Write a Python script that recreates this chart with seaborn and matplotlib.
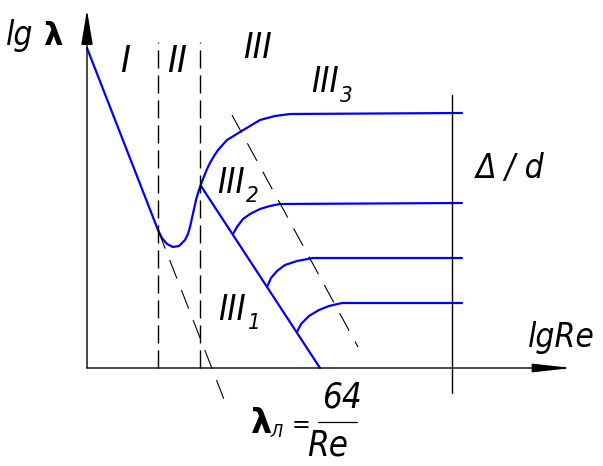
import matplotlib
matplotlib.use("Agg")
import matplotlib.pyplot as plt
import seaborn as sns
import pandas as pd
from matplotlib import font_manager

# ---------------- data (schematic units, origin at axis crossing) ----------------
laminar_x = [0, 71]
laminar_y = [320, 138]

trans_x = [71, 75, 80, 86, 92, 98, 101, 103, 105, 107, 109, 111, 113, 116, 120, 123,
           127, 131, 140, 153, 173, 188, 203, 375]
trans_y = [138, 130, 124, 121, 122, 128, 134, 141, 150, 159, 168, 175, 181, 189, 199, 205,
           212, 218, 228, 236, 248, 252, 254, 255]

smooth_x = [114, 233]
smooth_y = [182, 0]

branch1_x = [146, 150, 156, 163, 173, 183, 193, 375]
branch1_y = [134, 141, 149, 154, 159, 162, 164, 165]
branch2_x = [180, 184, 190, 198, 210, 226, 375]
branch2_y = [81, 90, 97, 103, 107, 110, 110]
branch3_x = [210, 214, 222, 232, 242, 255, 375]
branch3_y = [36, 44, 52, 58, 62, 65, 65]

lam_ext_x = [71, 140]
lam_ext_y = [138, -39]
bound_x = [145, 271]
bound_y = [253, 21]

zone_bounds = [71, 113]
zone_top = 326
rough_x = 365
rough_span = [-25, 273]
x_axis_end = 485
y_axis_end = 358

# ---------------- style ----------------
sns.set_theme(style="white")
entries = font_manager.fontManager.ttflist


def has(name, style=None, stretch=None):
    for f in entries:
        if f.name == name and (style is None or f.style == style) \
                and (stretch is None or f.stretch == stretch):
            return True
    return False


if has('Liberation Sans Narrow'):
    FAM, STRETCH, SCALE = 'Liberation Sans Narrow', 'normal', 1.0
elif has('DejaVu Sans', stretch='condensed'):
    FAM, STRETCH, SCALE = 'DejaVu Sans', 'condensed', 1.0
elif has('Roboto Condensed'):
    FAM, STRETCH, SCALE = 'Roboto Condensed', 'normal', 1.0
else:
    FAM, STRETCH, SCALE = 'Liberation Sans', 'normal', 0.88
plt.rcParams['font.family'] = [FAM, 'DejaVu Sans']

BLUE = '#0000ff'
LW = 1.6

fig = plt.figure(figsize=(6.03, 4.66), dpi=100)
ax = fig.add_axes([0, 0, 1, 1])
ax.set_xlim(-87, 516)
ax.set_ylim(-98, 368)
ax.axis('off')


def blue(xs, ys):
    df = pd.DataFrame({'x': xs, 'y': ys})
    sns.lineplot(data=df, x='x', y='y', sort=False, estimator=None,
                 color=BLUE, lw=LW, ax=ax)


for xs, ys in [(laminar_x, laminar_y), (trans_x, trans_y), (smooth_x, smooth_y),
               (branch1_x, branch1_y), (branch2_x, branch2_y), (branch3_x, branch3_y)]:
    blue(xs, ys)

# dashed diagonal guides
ax.plot(lam_ext_x, lam_ext_y, color='black', lw=0.8, dashes=(18, 11))
ax.plot(bound_x, bound_y, color='black', lw=0.8, dashes=(18, 11))

# zone boundaries
for xb in zone_bounds:
    ax.plot([xb, xb], [0, zone_top], color='black', lw=1.0, dashes=(13, 5))

# roughness vertical
ax.plot([rough_x, rough_x], rough_span, color='black', lw=1.0)

# axes with arrows
ax.annotate('', xy=(0, y_axis_end), xytext=(0, 0),
            arrowprops=dict(arrowstyle='-|>,head_length=1.8,head_width=0.3',
                            lw=1.0, color='black', shrinkA=0, shrinkB=0))
ax.annotate('', xy=(x_axis_end, 0), xytext=(0, 0),
            arrowprops=dict(arrowstyle='-|>,head_length=2.0,head_width=0.22',
                            lw=1.0, color='black', shrinkA=0, shrinkB=0))


def t(x, y, s, size, ha='left', **extra):
    ax.text(x, y, s, fontsize=size * SCALE, style='italic', color='black',
            va='baseline', ha=ha, family=[FAM, 'DejaVu Sans'], fontstretch=STRETCH,
            **extra)


t(-81, 323, 'lg', 24)
ax.text(-44, 323, 'λ', fontsize=22, color='black', va='baseline', ha='left',
        family='DejaVu Sans', weight='bold')

t(33, 296, 'I', 27)
t(80, 296, 'II', 27)
t(156, 310, 'III', 26)

t(224, 276, 'III', 25)
t(253, 266, '3', 16)
t(130, 175, 'III', 25)
t(159, 166, '2', 16)
t(131, 48, 'III', 25)
t(160, 39, '1', 16)

t(389, 190, 'Δ / d', 24)
t(441, 21, 'lgRe', 24)

ax.text(163, -65, 'λ', fontsize=24, color='black', va='baseline', ha='left',
        family='DejaVu Sans', weight='bold')
t(183, -69, 'Л', 13)
t(205, -64, '=', 18)
ax.plot([231, 270], [-54, -54], color='black', lw=0.9)
t(255, -40, '64', 25, ha='center')
t(241, -87, 'Re', 25, ha='center')

fig.savefig('out.png', dpi=100)
